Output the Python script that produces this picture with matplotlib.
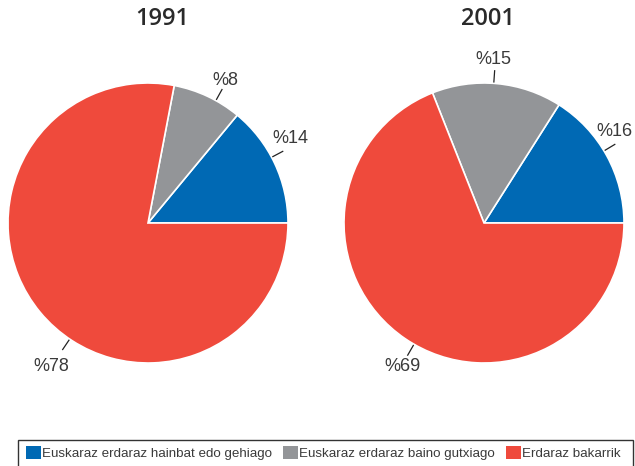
import numpy as np
import matplotlib.pyplot as plt
from matplotlib.patches import Patch, Rectangle

# --- data ---
years = ['1991', '2001']
categories = ['Euskaraz erdaraz hainbat edo gehiago',
              'Euskaraz erdaraz baino gutxiago',
              'Erdaraz bakarrik']
values_1991 = [14, 8, 78]
values_2001 = [16, 15, 69]
labels_1991 = ['%14', '%8', '%78']
labels_2001 = ['%16', '%15', '%69']

# --- style / layout ---
colors = ['#0069b4', '#939598', '#ef4a3c']
text_color = '#3a3a3a'
centers = [(148, 243), (484, 243)]   # pixel coords, y from bottom
title_x = [162, 488]
radius = 140
# leader line angles, text angles and text radii (in radius units)
line_angles = [[28, 61, 236], [31, 86, 240]]
text_angles = [[30.6, 61.7, 236], [35, 86.8, 240.3]]
text_r = [[1.18, 1.16, 1.24], [1.14, 1.17, 1.18]]

plt.rcParams['font.family'] = ['Liberation Sans', 'DejaVu Sans']

fig = plt.figure(figsize=(6.35, 4.66), dpi=100)
ax = fig.add_axes([0, 0, 1, 1])

all_values = [values_1991, values_2001]
all_labels = [labels_1991, labels_2001]
for k, (vals, labs) in enumerate(zip(all_values, all_labels)):
    cx, cy = centers[k]
    ax.pie(vals, colors=colors, startangle=0, counterclock=True,
           center=(cx, cy), radius=radius, frame=True,
           wedgeprops=dict(edgecolor='white', linewidth=1.2))
    ax.text(title_x[k], 447, years[k], ha='center', va='center', fontsize=17,
            fontweight='semibold', color='#2a2a2a', family='Open Sans')
    for j, lab in enumerate(labs):
        a = np.deg2rad(line_angles[k][j])
        r0, r1 = radius * 1.01, radius * 1.09
        ax.plot([cx + r0 * np.cos(a), cx + r1 * np.cos(a)],
                [cy + r0 * np.sin(a), cy + r1 * np.sin(a)],
                color='#222222', lw=0.9)
        b = np.deg2rad(text_angles[k][j])
        rt = radius * text_r[k][j]
        ax.text(cx + rt * np.cos(b), cy + rt * np.sin(b), lab,
                ha='center', va='center', fontsize=13, color=text_color)

ax.set_xlim(0, 635)
ax.set_ylim(0, 466)
ax.set_aspect('equal')
ax.axis('off')

# legend frame runs past the bottom edge, as in the source
ax.add_patch(Rectangle((18, -5), 615, 31, facecolor='none',
                       edgecolor='#333333', lw=1.0, clip_on=False))
handles = [Patch(facecolor=c, edgecolor='none') for c in colors]
leg = ax.legend(handles, categories, loc='center left', ncol=3,
                bbox_to_anchor=(26, 13), bbox_transform=ax.transData,
                frameon=False, handlelength=1.1, handleheight=1.1,
                handletextpad=0.1, columnspacing=0.85, borderpad=0.0,
                borderaxespad=0.0, prop={'size': 9.6})
for t in leg.get_texts():
    t.set_color(text_color)

fig.savefig('out.png', dpi=100)
